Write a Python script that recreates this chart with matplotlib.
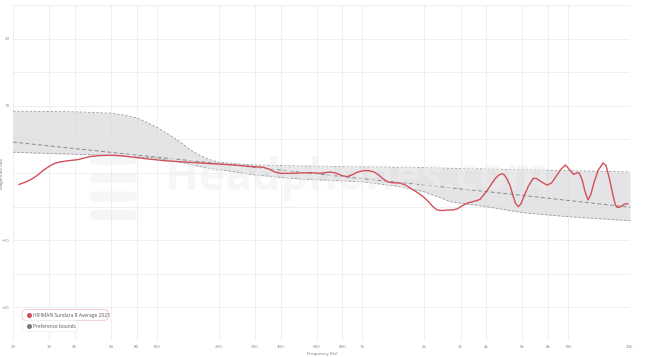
import matplotlib
matplotlib.use("Agg")
import matplotlib.pyplot as plt
from matplotlib.patches import FancyBboxPatch

# ---- data ----
fr_freq = [21.4, 23, 24.7, 26.5, 28.1, 30, 32, 34, 36.5, 41.6, 44, 47.4, 53, 61, 68, 77, 90,
           112, 162, 235, 294, 330, 350, 375, 400, 440, 498, 560, 622, 660, 696, 740, 790,
           840, 880, 940, 1008, 1070, 1128, 1190, 1250, 1334, 1420, 1526, 1620, 1720, 1850,
           1972, 2100, 2200, 2308, 2450, 2600, 2750, 2888, 3050, 3232, 3400, 3600, 3735,
           3900, 4085, 4250, 4400, 4600, 4780, 4900, 5050, 5225, 5400, 5550, 5720, 5900,
           6100, 6400, 6760, 7000, 7400, 7900, 8300, 8700, 9200, 9700, 10100, 10600, 11000,
           11300, 11700, 12100, 12500, 12900, 13400, 14000, 14800, 15300, 15900, 16500,
           17000, 17300, 17800, 18400, 18900, 19500]
fr_db = [-1.7, -1.35, -0.9, -0.25, 0.4, 1.0, 1.45, 1.65, 1.8, 2.0, 2.2, 2.45, 2.6, 2.65, 2.55,
         2.35, 2.1, 1.8, 1.5, 1.2, 0.95, 0.85, 0.6, 0.15, -0.05, -0.05, 0.0, 0.05, -0.05,
         0.05, 0.15, 0.0, -0.35, -0.55, -0.35, 0.1, 0.35, 0.35, 0.2, -0.2, -0.8, -1.35,
         -1.45, -1.5, -1.8, -2.3, -2.9, -3.5, -4.3, -5.0, -5.5, -5.6, -5.5, -5.5, -5.35,
         -4.9, -4.5, -4.3, -4.1, -3.9, -3.2, -2.4, -1.6, -0.9, -0.3, -0.1, -0.3, -0.9,
         -1.9, -3.4, -4.5, -5.0, -4.6, -3.5, -2.0, -0.8, -0.8, -1.3, -1.8, -1.5, -0.6,
         0.5, 1.2, 0.6, -0.2, 0.0, 0.05, -1.0, -2.8, -4.0, -3.2, -1.3, 0.4, 1.5, 1.1,
         -0.9, -3.2, -4.8, -5.1, -5.1, -4.8, -4.6, -4.6]

bound_freq = [20, 30, 40, 50, 60, 70, 80, 90, 100, 115, 130, 145, 160, 180, 200, 250, 300,
              500, 1000, 1500, 2000, 2700, 4000, 6000, 10000, 20000]
upper_db = [9.2, 9.15, 9.1, 9.0, 8.9, 8.6, 8.2, 7.5, 6.8, 5.7, 4.6, 3.5, 2.7, 2.0, 1.6,
            1.35, 1.2, 1.05, 0.9, 0.85, 0.8, 0.7, 0.6, 0.5, 0.35, 0.15]
lower_db = [3.1, 2.9, 2.8, 2.7, 2.6, 2.5, 2.4, 2.3, 2.2, 1.9, 1.6, 1.3, 1.0, 0.7, 0.5,
            0.1, -0.3, -0.9, -1.3, -2.0, -2.8, -4.3, -5.0, -5.9, -6.5, -7.1]

target_freq = [20, 63, 200, 630, 2000, 6300, 20000]
target_db = [4.6, 3.0, 1.4, -0.2, -1.8, -3.4, -5.1]

xticks = [20, 30, 40, 60, 80, 100, 200, 300, 400, 600, 800, 1000, 2000, 3000, 4000,
          6000, 8000, 10000, 20000]
xticklabels = ["20", "30", "40", "60", "80", "100", "200", "300", "400", "600", "800",
               "1k", "2k", "3k", "4k", "6k", "8k", "10k", "20k"]
yticks = [20, 10, -10, -20]
ygrid = [-25, -20, -15, -10, -5, 0, 5, 10, 15, 20, 25]

series_name = "HIFIMAN Sundara R Average 2023"
bounds_name = "Preference bounds"

# ---- figure ----
plt.rcParams['font.family'] = ['Open Sans', 'DejaVu Sans']
fig = plt.figure(figsize=(6.45, 3.57), dpi=100)
ax = fig.add_axes([13/645, 1-341/357, (630-13)/645, (341-5)/357])
ax.set_xscale('log')
ax.set_xlim(20, 20000)
ax.set_ylim(-25, 25)

for s in ax.spines.values():
    s.set_visible(False)

ax.set_xticks(xticks)
ax.set_xticklabels(xticklabels)
ax.xaxis.set_minor_locator(matplotlib.ticker.NullLocator())
ax.set_yticks(yticks)
ax.set_yticks(ygrid, minor=True)
ax.tick_params(axis='both', which='both', length=0, labelsize=3.2, colors='#888888')
ax.tick_params(axis='x', pad=3.2)
ax.tick_params(axis='y', pad=2.5)
ax.grid(True, which='major', axis='x', color='#ececec', lw=0.6)
ax.grid(True, which='both', axis='y', color='#ececec', lw=0.6)
ax.set_axisbelow(True)

# bounds
ax.fill_between(bound_freq, lower_db, upper_db, color='#dcdce0', alpha=0.75, lw=0, zorder=1)
ax.plot(bound_freq, upper_db, color='#9a9a9a', lw=0.6, ls=(0, (3, 2)), zorder=2)
ax.plot(bound_freq, lower_db, color='#9a9a9a', lw=0.6, ls=(0, (3, 2)), zorder=2)
ax.plot(target_freq, target_db, color='#8a8a8a', lw=0.7, ls=(0, (4, 2.5)), zorder=2)

# watermark (semi-transparent overlay)
ax.text((165-13)/617, 0.485, "Headphones.com", transform=ax.transAxes, fontsize=32,
        color='#eeeeee', alpha=0.5, ha='left', va='center', fontweight='bold', zorder=2.5)
for i in range(4):
    y0 = 0.36 + i * 0.055
    ax.add_patch(FancyBboxPatch((0.125, y0), 0.075, 0.03, transform=ax.transAxes,
                                boxstyle="round,pad=0,rounding_size=0.01",
                                fc='#eeeeee', alpha=0.5, ec='none', zorder=2.5))

# frequency response
ax.plot(fr_freq, fr_db, color='#d2505a', lw=1.0, zorder=3, solid_joinstyle='round')

fig.text(322/645, 1-354/357, "Frequency (Hz)", fontsize=3.2, color='#777777',
         ha='center', va='center')
ax.set_ylabel("Magnitude (dB)", fontsize=3.2, color='#777777')
ax.yaxis.set_label_coords(-0.015, 0.5)

# legend (drawn manually)
def fx(px):
    return px / 645
def fy(py):
    return 1 - py / 357

fig.patches.append(FancyBboxPatch((fx(22), fy(320.5)), fx(108) - fx(22), fy(309.5) - fy(320.5),
                                  transform=fig.transFigure,
                                  boxstyle="round,pad=0,rounding_size=0.008",
                                  fc='white', ec='#f2c9cc', lw=0.6))
fig.patches.append(FancyBboxPatch((fx(22), fy(331.5)), fx(78) - fx(22), fy(320.5) - fy(331.5),
                                  transform=fig.transFigure,
                                  boxstyle="round,pad=0,rounding_size=0.008",
                                  fc='white', ec='#f0f0f0', lw=0.5))
fig.add_artist(plt.Line2D([fx(28.5)], [fy(315)], marker='o', ms=2.6, color='#d2505a',
                          transform=fig.transFigure, ls='none'))
fig.add_artist(plt.Line2D([fx(28.5)], [fy(326)], marker='o', ms=2.6, color='#7a7a7a',
                          transform=fig.transFigure, ls='none'))
fig.text(fx(33), fy(315), series_name, fontsize=3.5, color='#555555', va='center', ha='left')
fig.text(fx(33), fy(326), bounds_name, fontsize=3.5, color='#555555', va='center', ha='left')

fig.savefig("out.png", dpi=100, facecolor='white')
